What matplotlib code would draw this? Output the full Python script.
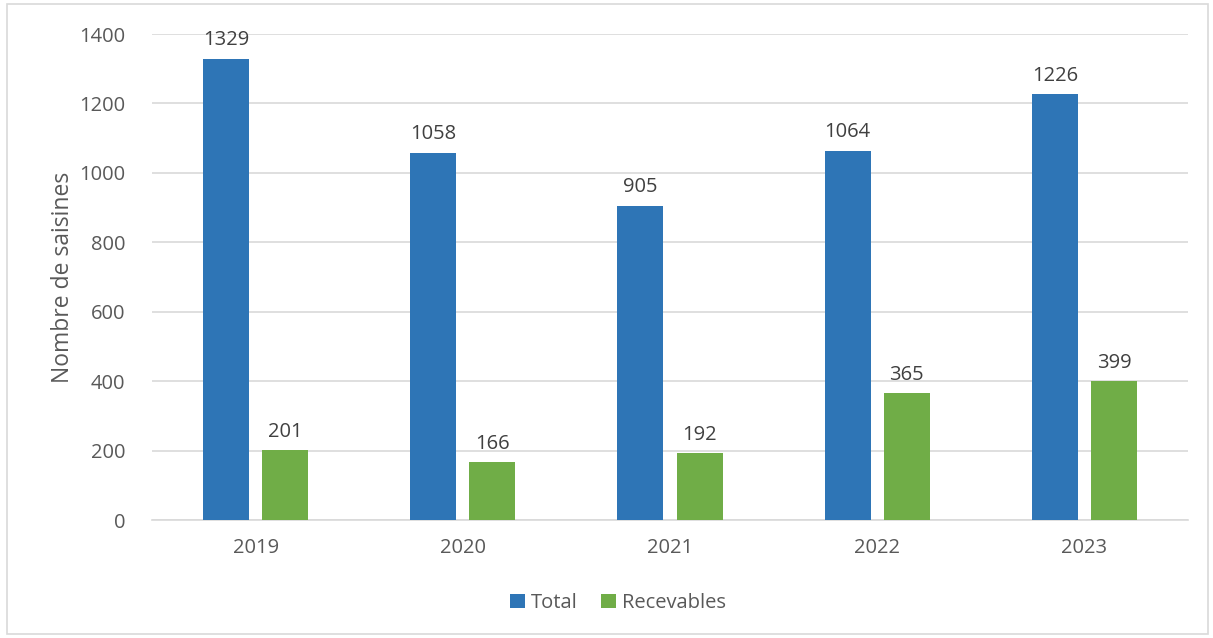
import matplotlib
matplotlib.use("Agg")
import matplotlib.pyplot as plt
import numpy as np
from matplotlib.patches import Rectangle

years = ["2019", "2020", "2021", "2022", "2023"]
total = [1329, 1058, 905, 1064, 1226]
recevables = [201, 166, 192, 365, 399]
yticks = [0, 200, 400, 600, 800, 1000, 1200, 1400]

plt.rcParams['font.family'] = ['Open Sans', 'DejaVu Sans']
txt = '#404040'
tick_c = '#595959'

fig = plt.figure(figsize=(12.13, 6.38), dpi=100)
ax = fig.add_axes([152/1213, 1-520/638, (1188-152)/1213, (520-34)/638])

x = np.arange(len(years))
w = 0.222
off = 0.143
b1 = ax.bar(x - off, total, w, color='#2E75B6', label='Total', zorder=3)
b2 = ax.bar(x + off, recevables, w, color='#70AD47', label='Recevables', zorder=3)

for bars, vals in ((b1, total), (b2, recevables)):
    for r, v in zip(bars, vals):
        ax.text(r.get_x() + r.get_width()/2, v + 25, str(v), ha='center', va='bottom',
                fontsize=14.5, color=txt)

ax.set_xlim(-0.5, len(years) - 0.5)
ax.set_ylim(0, 1400)
ax.set_yticks(yticks)
ax.set_xticks(x)
ax.set_xticklabels(years)
ax.yaxis.grid(True, color='#D9D9D9', linewidth=1.2, zorder=0)
ax.set_axisbelow(True)
for s in ['top', 'right', 'left']:
    ax.spines[s].set_visible(False)
ax.spines['bottom'].set_color('#D9D9D9')
ax.spines['bottom'].set_linewidth(1.2)
ax.tick_params(axis='both', length=0, labelsize=14.5, colors=tick_c)
ax.tick_params(axis='x', pad=13)
ax.tick_params(axis='y', pad=19)
ax.set_ylabel('Nombre de saisines', fontsize=16.5, color=tick_c, labelpad=3.5)

fig.legend(handles=[b1, b2], labels=['Total', 'Recevables'], loc='center',
           bbox_to_anchor=(618/1213, 1-603/638), ncol=2, frameon=False,
           fontsize=14.5, handlelength=0.7, handleheight=0.7, handletextpad=0.3,
           columnspacing=1.2, labelcolor=tick_c)

fig.patches.append(Rectangle((7/1213, 4/638), 1201/1213, 630/638, transform=fig.transFigure,
                             fill=False, edgecolor='#D9D9D9', linewidth=1.2))

fig.savefig('out.png', dpi=100)
